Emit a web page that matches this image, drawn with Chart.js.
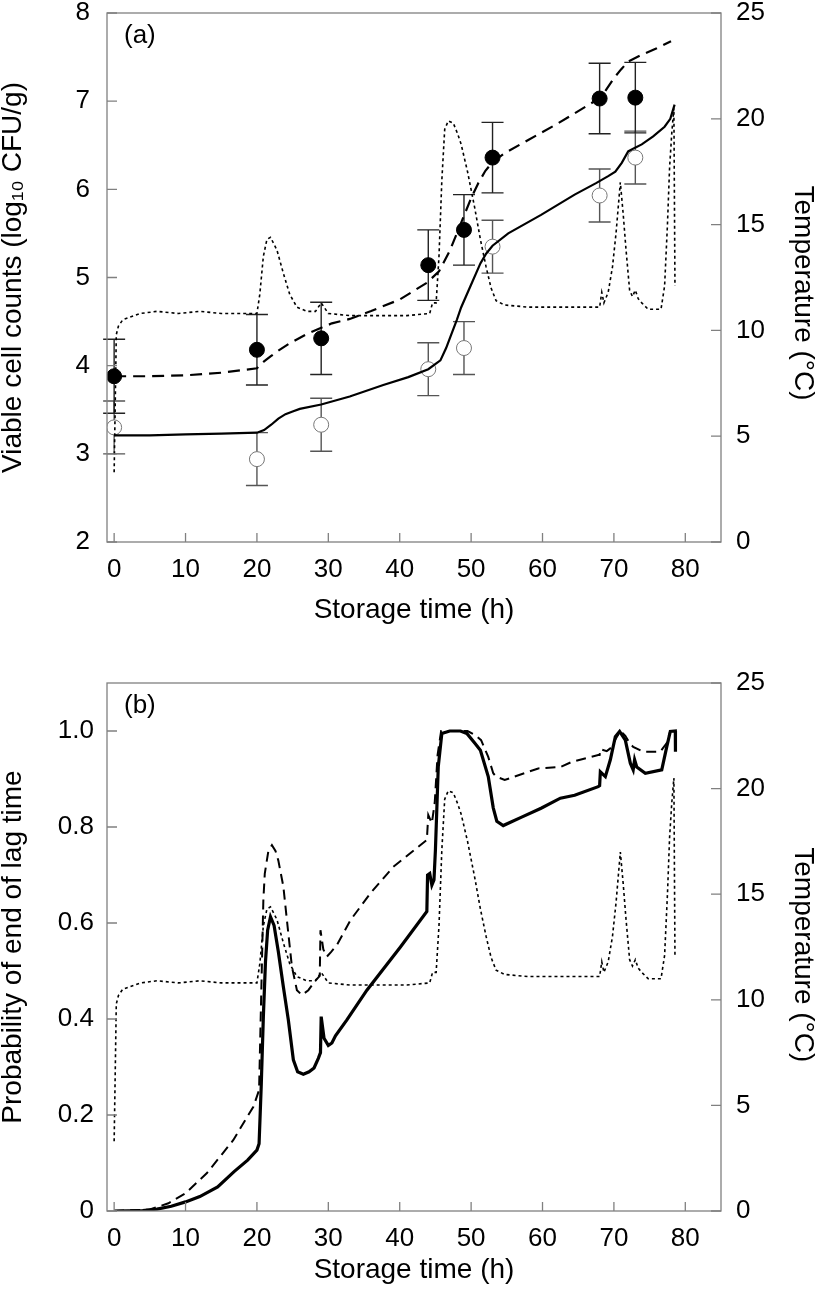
<!DOCTYPE html>
<html>
<head>
<meta charset="utf-8">
<script src="https://cdn.jsdelivr.net/npm/chart.js@4.4.0/dist/chart.umd.min.js"></script>
<style>
  html, body { margin: 0; padding: 0; background: #fff; }
  .panel { position: absolute; left: 0; width: 816px; height: 648px; }
</style>
</head>
<body>
<div class="panel" style="top:0"><canvas id="chartA" width="816" height="648"></canvas></div>
<div class="panel" style="top:648px"><canvas id="chartB" width="816" height="648"></canvas></div>
<script>
// axis ticks
const xTicks = [0, 10, 20, 30, 40, 50, 60, 70, 80];
const yTicksA = [2, 3, 4, 5, 6, 7, 8];
const yTicksB = [0, 0.2, 0.4, 0.6, 0.8, 1.0];
const yTickLabelsB = ["0", "0.2", "0.4", "0.6", "0.8", "1.0"];
const tempTicks = [0, 5, 10, 15, 20, 25];

// (a) observed counts
const tObs = [0, 20, 29, 44, 49, 53, 68, 73];
const obsFilled = [3.88, 4.18, 4.31, 5.14, 5.54, 6.36, 7.03, 7.04];
const errFilled = [0.42, 0.40, 0.41, 0.40, 0.40, 0.40, 0.40, 0.40];
const obsOpen = [3.30, 2.94, 3.33, 3.96, 4.20, 5.35, 5.93, 6.36];
const errOpen = [0.30, 0.30, 0.30, 0.30, 0.30, 0.30, 0.30, 0.30];

// (a) predictions
const tDashA = [0, 5, 10, 15, 20, 21, 22, 23, 24.5, 27, 30.5, 33, 36, 40, 43.8, 45.5, 47, 48.5, 50, 51,
                52, 53, 54.7, 58, 62, 67.3, 68.5, 70, 71, 72, 74, 76, 78];
const vDashA = [3.88, 3.88, 3.89, 3.92, 3.97, 4.05, 4.11, 4.17, 4.25, 4.36, 4.48, 4.53, 4.62, 4.75, 4.94, 5.07, 5.30, 5.60, 5.90, 6.07,
                6.21, 6.31, 6.41, 6.56, 6.74, 7.00, 7.08, 7.26, 7.36, 7.45, 7.53, 7.60, 7.68];
const tSolidA = [0, 5, 10, 15, 20, 21, 22, 23, 24, 25, 26, 29, 33, 37.7, 41.2, 44, 45.7, 46.5, 47.2, 48,
                 48.6, 49.9, 51.3, 52.1, 53, 55.2, 59.8, 64.5, 67.5, 69.2, 70.2, 71.1, 72, 72.9, 73.9, 75.5, 77.1, 77.9, 78.5];
const vSolidA = [3.21, 3.21, 3.22, 3.23, 3.24, 3.27, 3.33, 3.40, 3.45, 3.48, 3.51, 3.56, 3.65, 3.78, 3.87, 3.96, 4.06, 4.20, 4.35, 4.52,
                 4.66, 4.90, 5.16, 5.27, 5.36, 5.50, 5.71, 5.94, 6.07, 6.15, 6.20, 6.30, 6.43, 6.47, 6.51, 6.60, 6.71, 6.80, 6.96];

// temperature profile (both panels)
const tTemp = [0, 0.15, 0.3, 0.6, 1.2, 2, 3.7, 6, 9, 12, 15, 18, 20, 20.4, 20.9, 21.4, 21.9, 22.8, 23.7, 24.6,
               25.6, 27, 28.2, 29, 30, 33, 37, 41, 44.2, 44.6, 45.1, 45.5, 45.9, 46.3, 46.8, 47.5, 48.1, 48.6, 49.5, 50.5,
               51.3, 52.1, 52.8, 53.5, 54.7, 58, 62, 66, 68, 68.3, 68.6, 69.2, 69.8, 70.3, 70.9, 71.3, 71.7, 72.2, 72.6, 73,
               73.4, 73.9, 74.8, 76.6, 77.1, 77.5, 77.8, 78.1, 78.4, 78.55];
const temp = [3.3, 6.5, 9.8, 10.2, 10.5, 10.6, 10.8, 10.9, 10.8, 10.9, 10.8, 10.8, 10.8, 11.7, 13.5, 14.3, 14.4, 13.8, 12.7, 11.7,
              11.1, 10.9, 10.9, 11.3, 10.8, 10.7, 10.7, 10.7, 10.8, 11.3, 11.3, 13.5, 17.1, 19.5, 19.9, 19.8, 19.3, 18.8, 17.5, 15.8,
              14.3, 13.0, 12.0, 11.4, 11.2, 11.1, 11.1, 11.1, 11.1, 11.8, 11.3, 11.8, 13.0, 14.6, 17.0, 15.5, 13.8, 11.9, 11.6, 11.9,
              11.5, 11.3, 11.0, 11.0, 12.1, 15.0, 17.7, 19.3, 20.5, 12.1];

// (b) probability of end of lag time
const tSolidB = [0, 4, 6, 8, 10, 12, 14.5, 16.8, 18.7, 20, 20.3, 20.6, 20.9, 21.2, 21.5, 21.9, 22.4, 23, 23.7, 24.4,
                 25.1, 25.7, 26.5, 27.3, 28, 28.6, 28.9, 29, 29.4, 30, 30.5, 31, 32.6, 35.4, 40.1, 43.8, 43.9, 44.2, 44.5, 44.8,
                 45, 45.4, 45.9, 47, 48.5, 49.4, 50.5, 51.3, 52.4, 53.1, 53.6, 54.5, 57, 59.8, 62.5, 64.5, 67.8, 68, 68.1, 68.8,
                 69.5, 70.2, 70.8, 71.6, 72.3, 72.7, 72.9, 73.2, 74.4, 76.7, 77.4, 77.9, 78.6, 78.62];
const vSolidB = [0, 0.001, 0.004, 0.01, 0.019, 0.03, 0.05, 0.082, 0.106, 0.127, 0.14, 0.26, 0.405, 0.52, 0.585, 0.613, 0.595, 0.54, 0.467, 0.398,
                 0.315, 0.29, 0.285, 0.29, 0.298, 0.318, 0.33, 0.405, 0.36, 0.345, 0.35, 0.365, 0.398, 0.46, 0.55, 0.624, 0.70, 0.703, 0.679, 0.69,
                 0.752, 0.926, 0.995, 1.0, 1.0, 0.995, 0.975, 0.96, 0.905, 0.84, 0.812, 0.803, 0.82, 0.839, 0.86, 0.866, 0.884, 0.886, 0.915, 0.905,
                 0.94, 0.988, 0.999, 0.981, 0.933, 0.919, 0.94, 0.925, 0.912, 0.919, 0.967, 0.999, 1.0, 0.957];
const tDashB = [0, 5, 7.6, 10, 13, 16.7, 18.1, 19.5, 20.3, 20.6, 20.9, 21.1, 21.6, 22.1, 22.6, 23, 23.7, 24.4, 24.9, 25.6,
                26.3, 27.2, 28.2, 28.8, 28.9, 29.3, 29.8, 30.4, 31.2, 33.1, 35.9, 39.1, 43.8, 44, 44.5, 44.9, 45.3, 45.8, 47, 48.5,
                49.5, 50.5, 51.4, 52.4, 53.1, 53.5, 54.7, 59.4, 62.5, 64, 67.8, 68, 68.1, 69, 69.6, 70.3, 70.9, 71.6, 72.2, 72.7,
                74.1, 76.5, 77.4, 77.9, 78.6, 78.62];
const vDashB = [0, 0.003, 0.016, 0.037, 0.079, 0.148, 0.183, 0.217, 0.252, 0.45, 0.648, 0.703, 0.75, 0.762, 0.75, 0.73, 0.676, 0.578, 0.509, 0.46,
                0.45, 0.46, 0.48, 0.49, 0.585, 0.545, 0.53, 0.54, 0.554, 0.606, 0.662, 0.717, 0.773, 0.825, 0.808, 0.85, 0.95, 1.0, 1.0, 1.0,
                1.0, 0.992, 0.981, 0.946, 0.912, 0.905, 0.898, 0.922, 0.925, 0.935, 0.95, 0.95, 0.962, 0.958, 0.965, 0.985, 1.0, 0.99, 0.975, 0.967,
                0.957, 0.957, 0.975, 1.0, 1.0, 0.957];

const FONT = "'Liberation Sans', Arial, Helvetica, sans-serif";
const tickFont = { family: FONT, size: 26 };
const titleFont = { family: FONT, size: 28, lineHeight: 1 };
const FRAME = "#808080";

function pts(xs, ys) {
    return xs.map((x, i) => ({ x: x, y: ys[i] }));
}

// error bars, frame, inward ticks and panel label
const decorPlugin = {
    id: "decor",
    beforeDatasetsDraw(chart) {
        const ctx = chart.ctx;
        chart.data.datasets.forEach((ds, i) => {
            if (!ds.errors) return;
            const xs = chart.scales[ds.xAxisID || "x"];
            const ys = chart.scales[ds.yAxisID || "y"];
            ctx.save();
            ctx.strokeStyle = ds.errColor;
            ctx.lineWidth = 1.4;
            ds.data.forEach((p, j) => {
                const px = xs.getPixelForValue(p.x);
                const top = ys.getPixelForValue(p.y + ds.errors[j]);
                const bot = ys.getPixelForValue(p.y - ds.errors[j]);
                ctx.beginPath();
                ctx.moveTo(px, top); ctx.lineTo(px, bot);
                ctx.moveTo(px - 11, top); ctx.lineTo(px + 11, top);
                ctx.moveTo(px - 11, bot); ctx.lineTo(px + 11, bot);
                ctx.stroke();
            });
            ctx.restore();
        });
    },
    afterDraw(chart, args, opts) {
        const ctx = chart.ctx;
        const a = chart.chartArea;
        ctx.save();
        ctx.strokeStyle = FRAME;
        ctx.lineWidth = 1.3;
        ctx.strokeRect(a.left, a.top, a.right - a.left, a.bottom - a.top);
        ctx.beginPath();
        const sx = chart.scales.x;
        sx.ticks.forEach(t => {
            const px = sx.getPixelForValue(t.value);
            ctx.moveTo(px, a.bottom); ctx.lineTo(px, a.bottom - 9);
        });
        const sy = chart.scales.y;
        sy.ticks.forEach(t => {
            const py = sy.getPixelForValue(t.value);
            ctx.moveTo(a.left, py); ctx.lineTo(a.left + 10, py);
        });
        const st = chart.scales.yT;
        st.ticks.forEach(t => {
            const py = st.getPixelForValue(t.value);
            ctx.moveTo(a.right, py); ctx.lineTo(a.right - 10, py);
        });
        ctx.stroke();
        ctx.fillStyle = "#000";
        ctx.font = "26px " + FONT;
        ctx.textBaseline = "middle";
        ctx.textAlign = "left";
        ctx.fillText(opts.label, a.left + 17, a.top + 23);
        ctx.restore();
    }
};

function makeScales(cfg) {
    return {
        x: {
            type: "linear", position: "bottom", min: -1, max: 85,
            afterBuildTicks: s => { s.ticks = xTicks.map(v => ({ value: v })); },
            afterFit: s => { s.height = cfg.xHeight; s.paddingLeft = 0; s.paddingRight = 0; },
            grid: { display: false, drawTicks: false },
            border: { display: false },
            ticks: { font: tickFont, color: "#000", padding: 12, maxRotation: 0, autoSkip: false },
            title: { display: true, text: "Storage time (h)", font: titleFont, color: "#000",
                     padding: { top: 0, bottom: cfg.xTitlePad } }
        },
        y: {
            type: "linear", position: "left", min: cfg.yMin, max: cfg.yMax,
            afterBuildTicks: s => { s.ticks = cfg.yTicks.map(v => ({ value: v })); },
            afterFit: s => { s.width = 107; s.paddingTop = 0; s.paddingBottom = 0; },
            grid: { display: false, drawTicks: false },
            border: { display: false },
            ticks: { font: tickFont, color: "#000", padding: cfg.yPad,
                     callback: cfg.yLabel },
            title: { display: true, text: cfg.yTitle, font: titleFont, color: "#000",
                     padding: { top: -1, bottom: 0 } }
        },
        yT: {
            type: "linear", position: "right", min: 0, max: 25,
            afterBuildTicks: s => { s.ticks = tempTicks.map(v => ({ value: v })); },
            afterFit: s => { s.width = 95; s.paddingTop = 0; s.paddingBottom = 0; },
            grid: { display: false, drawTicks: false },
            border: { display: false },
            ticks: { font: tickFont, color: "#000", padding: 15 },
            title: { display: true, text: cfg.tTitle, font: titleFont, color: "#000",
                     padding: { top: -1, bottom: 0 } }
        }
    };
}

function lineSet(xs, ys, width, dash, axis) {
    return {
        type: "line", data: pts(xs, ys), yAxisID: axis || "y",
        borderColor: "#000", borderWidth: width, borderDash: dash,
        pointRadius: 0, fill: false, tension: 0
    };
}

const baseOptions = (cfg) => ({
    responsive: false,
    animation: false,
    layout: { padding: { top: cfg.top, left: 0, right: 0, bottom: 0 } },
    plugins: { legend: { display: false }, tooltip: { enabled: false }, decor: { label: cfg.label } },
    scales: makeScales(cfg)
});

new Chart(document.getElementById("chartA"), {
    type: "scatter",
    data: {
        datasets: [
            lineSet(tTemp, temp, 1.6, [3, 3], "yT"),
            lineSet(tDashA, vDashA, 2.2, [12, 7]),
            lineSet(tSolidA, vSolidA, 2.2, []),
            {
                type: "scatter", data: pts(tObs, obsOpen), errors: errOpen, errColor: "#555",
                pointRadius: 7.5, pointBackgroundColor: "#fff", pointBorderColor: "#777", pointBorderWidth: 1
            },
            {
                type: "scatter", data: pts(tObs, obsFilled), errors: errFilled, errColor: "#222",
                pointRadius: 7.5, pointBackgroundColor: "#000", pointBorderColor: "#000", pointBorderWidth: 1
            }
        ]
    },
    options: baseOptions({
        label: "(a)", top: 13, xHeight: 106, xTitlePad: 24,
        yMin: 2, yMax: 8, yTicks: yTicksA, yPad: 17,
        yTitle: "Viable cell counts (log\u2081\u2080 CFU/g)",
        tTitle: "    Temperature (°C)",
        yLabel: v => String(v)
    }),
    plugins: [decorPlugin]
});

new Chart(document.getElementById("chartB"), {
    type: "scatter",
    data: {
        datasets: [
            lineSet(tTemp, temp, 1.6, [3, 3], "yT"),
            lineSet(tDashB, vDashB, 2, [10, 6]),
            lineSet(tSolidB, vSolidB, 3.2, [])
        ]
    },
    options: baseOptions({
        label: "(b)", top: 35, xHeight: 85, xTitlePad: 12,
        yMin: 0, yMax: 1.1, yTicks: yTicksB, yPad: 13,
        yTitle: "Probability of end of lag time",
        tTitle: "  Temperature (°C)",
        yLabel: v => {
            const i = yTicksB.findIndex(t => Math.abs(t - v) < 1e-9);
            return i >= 0 ? yTickLabelsB[i] : "";
        }
    }),
    plugins: [decorPlugin]
});
</script>
</body>
</html>
